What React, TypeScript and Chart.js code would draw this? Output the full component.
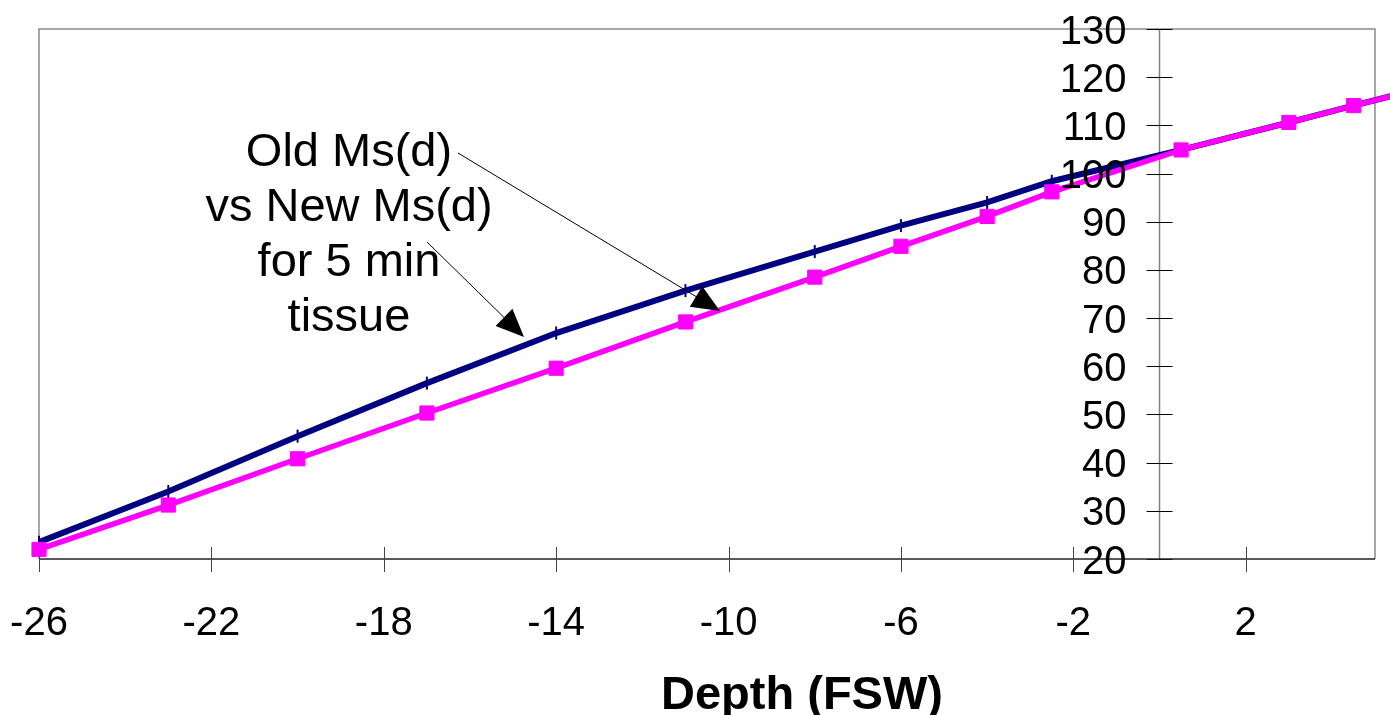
import React, { useEffect, useRef } from 'react';
import { Chart, registerables } from 'chart.js';

Chart.register(...registerables);

// ---- data ----
const depths = [-26, -23, -20, -17, -14, -11, -8, -6, -4, -2.5, 0.5, 3, 4.5, 6];
const oldMs = [23.5, 34.0, 45.5, 56.5, 66.9, 75.7, 83.8, 89.2, 94.0, 98.4, 104.9, 110.6, 114.1, 117.5];
const newMs = [22.0, 31.2, 40.8, 50.3, 59.6, 69.2, 78.5, 84.9, 91.1, 96.2, 104.9, 110.6, 114.1, 117.5];
const xTicks = [-26, -22, -18, -14, -10, -6, -2, 2];
const yTicks = [20, 30, 40, 50, 60, 70, 80, 90, 100, 110, 120, 130];
const xTitle = 'Depth (FSW)';
const noteLines = ['Old Ms(d)', 'vs New Ms(d)', 'for 5 min', 'tissue'];

const FONT = '"Liberation Sans", Arial, Helvetica, sans-serif';

function seg(ctx: CanvasRenderingContext2D, x1: number, y1: number, x2: number, y2: number) {
  ctx.beginPath();
  ctx.moveTo(x1, y1);
  ctx.lineTo(x2, y2);
  ctx.stroke();
}

function arrow(ctx: CanvasRenderingContext2D, x1: number, y1: number, x2: number, y2: number) {
  const dx = x2 - x1;
  const dy = y2 - y1;
  const len = Math.hypot(dx, dy);
  const ux = dx / len;
  const uy = dy / len;
  const headLen = 28;
  const halfW = 12;
  const bx = x2 - ux * headLen;
  const by = y2 - uy * headLen;
  ctx.strokeStyle = '#000';
  ctx.lineWidth = 1;
  seg(ctx, x1, y1, bx, by);
  ctx.fillStyle = '#000';
  ctx.beginPath();
  ctx.moveTo(x2, y2);
  ctx.lineTo(bx - uy * halfW, by + ux * halfW);
  ctx.lineTo(bx + uy * halfW, by - ux * halfW);
  ctx.closePath();
  ctx.fill();
}

const excelAxes = {
  id: 'excelAxes',
  beforeDraw(chart: any) {
    const { ctx, width, height } = chart;
    ctx.save();
    ctx.fillStyle = '#fff';
    ctx.fillRect(0, 0, width, height);
    ctx.restore();
  },
  beforeDatasetsDraw(chart: any) {
    const { ctx, chartArea: a, scales } = chart;
    const x = scales.x;
    const y = scales.y;
    const xv = x.ticks && x.ticks.length ? x.ticks.map((t: any) => t.value) : xTicks;
    const yv = y.ticks && y.ticks.length ? y.ticks.map((t: any) => t.value) : yTicks;
    ctx.save();
    // plot border
    ctx.strokeStyle = '#8a8a8a';
    ctx.lineWidth = 1.5;
    ctx.beginPath();
    ctx.moveTo(a.left, a.bottom);
    ctx.lineTo(a.left, a.top);
    ctx.lineTo(a.right, a.top);
    ctx.lineTo(a.right, a.bottom);
    ctx.stroke();
    // y axis at depth 0
    const x0 = x.getPixelForValue(0);
    ctx.strokeStyle = '#808080';
    ctx.lineWidth = 1.5;
    seg(ctx, x0, a.top, x0, a.bottom);
    ctx.strokeStyle = '#000';
    ctx.lineWidth = 1;
    yv.forEach((v: number) => {
      const py = Math.round(y.getPixelForValue(v)) + 0.5;
      seg(ctx, x0 - 13, py, x0 + 13, py);
    });
    // x axis
    ctx.strokeStyle = '#222';
    ctx.lineWidth = 1.5;
    seg(ctx, a.left, a.bottom, a.right, a.bottom);
    ctx.strokeStyle = '#444';
    ctx.lineWidth = 1;
    xv.forEach((v: number) => {
      const px = Math.round(x.getPixelForValue(v)) + 0.5;
      seg(ctx, px, a.bottom - 12, px, a.bottom + 13);
    });
    ctx.restore();
  },
  afterDatasetsDraw(chart: any) {
    const { ctx, chartArea: a, scales } = chart;
    const x = scales.x;
    const y = scales.y;
    const xv = x.ticks && x.ticks.length ? x.ticks.map((t: any) => t.value) : xTicks;
    const yv = y.ticks && y.ticks.length ? y.ticks.map((t: any) => t.value) : yTicks;
    const x0 = x.getPixelForValue(0);
    ctx.save();
    ctx.fillStyle = '#000';
    ctx.font = `40px ${FONT}`;
    ctx.textBaseline = 'alphabetic';
    ctx.textAlign = 'right';
    yv.forEach((v: number) => {
      ctx.fillText(String(v), x0 - 33, y.getPixelForValue(v) + 14.5);
    });
    ctx.textAlign = 'center';
    xv.forEach((v: number) => {
      ctx.fillText(String(v), x.getPixelForValue(v), a.bottom + 76);
    });
    // axis title
    ctx.font = `bold 47px ${FONT}`;
    ctx.fillText(xTitle, 802, 709);
    // note
    ctx.font = `47px ${FONT}`;
    noteLines.forEach((t, i) => ctx.fillText(t, 349, 166 + 55 * i));
    // arrows
    arrow(ctx, 458, 153, 720, 311);
    arrow(ctx, 427, 242, 524, 337);
    ctx.restore();
  },
};

export default function App() {
  const ref = useRef<HTMLCanvasElement | null>(null);
  useEffect(() => {
    document.body.style.margin = '0';
    if (!ref.current) return;
    const chart = new Chart(ref.current, {
      type: 'scatter',
      data: {
        datasets: [
          {
            label: 'New Ms(d)',
            data: depths.map((d, i) => ({ x: d, y: newMs[i] })),
            showLine: true,
            borderColor: '#FF00FF',
            backgroundColor: '#FF00FF',
            borderWidth: 5.5,
            pointStyle: 'rect',
            pointRadius: 10,
            pointBorderWidth: 1,
            pointBorderColor: '#FF00FF',
            pointBackgroundColor: '#FF00FF',
            clip: false,
          } as any,
          {
            label: 'Old Ms(d)',
            data: depths.map((d, i) => ({ x: d, y: oldMs[i] })),
            showLine: true,
            borderColor: '#000080',
            backgroundColor: '#000080',
            borderWidth: 6,
            pointStyle: 'line',
            pointRotation: 90,
            pointRadius: 6.5,
            pointBorderWidth: 2,
            pointBorderColor: '#000080',
            clip: false,
          } as any,
        ],
      },
      options: {
        animation: false,
        responsive: true,
        maintainAspectRatio: false,
        events: [],
        layout: { padding: { left: 39, right: 15, top: 29, bottom: 156 } },
        plugins: {
          legend: { display: false },
          tooltip: { enabled: false },
          title: { display: false },
        },
        scales: {
          x: {
            type: 'linear',
            min: -26,
            max: 5,
            display: false,
            afterBuildTicks: (s: any) => {
              s.ticks = xTicks.map((v) => ({ value: v }));
            },
          },
          y: {
            type: 'linear',
            min: 20,
            max: 130,
            display: false,
            afterBuildTicks: (s: any) => {
              s.ticks = yTicks.map((v) => ({ value: v }));
            },
          },
        },
      },
      plugins: [excelAxes],
    });
    return () => chart.destroy();
  }, []);
  return (
    <div style={{ width: 1390, height: 715, position: 'relative' }}>
      <canvas ref={ref} />
    </div>
  );
}
